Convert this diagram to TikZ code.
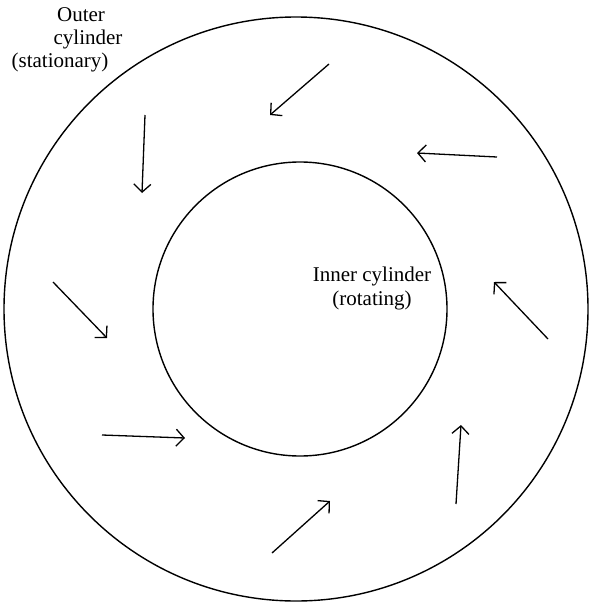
\documentclass[tikz,border=0pt]{standalone}
\usepackage{fontspec}
\setmainfont{Liberation Serif}
\usetikzlibrary{arrows.meta}
\begin{document}
\begin{tikzpicture}[x=1pt,y=-1pt,
  wall/.style={line width=1.4pt},
  flow/.style={line width=1.3pt,-{Straight Barb[length=8pt,width=17pt,line width=1.3pt]}},
  lbl/.style={font=\fontsize{21}{24}\selectfont,inner sep=0pt}]
\useasboundingbox (0,0) rectangle (591,605);
\node[draw,wall,circle,minimum size=584pt,inner sep=0pt] (outer) at (296,309) {};
\node[draw,wall,circle,minimum size=294pt,inner sep=0pt] (inner) at (300,309) {};
% labels
\node[lbl] (o1) at (81,15) {Outer};
\node[lbl] (o2) at (88,39) {cylinder};
\node[lbl] (o3) at (60,62) {(stationary)};
\node[lbl] (i1) at (372,276) {Inner cylinder};
\node[lbl] (i2) at (372,300) {(rotating)};
% flow arrows
\coordinate (a1s) at (145,115); \coordinate (a1e) at (142,193);
\coordinate (a2s) at (329,64);  \coordinate (a2e) at (270,115);
\coordinate (a3s) at (497,157); \coordinate (a3e) at (417,153);
\coordinate (a4s) at (53,282);  \coordinate (a4e) at (107,338);
\coordinate (a5s) at (548,339); \coordinate (a5e) at (494,282);
\coordinate (a6s) at (102,435); \coordinate (a6e) at (185,438);
\coordinate (a7s) at (272,553); \coordinate (a7e) at (330,501);
\coordinate (a8s) at (456,504); \coordinate (a8e) at (461,425);
\foreach \i in {1,...,8} \draw[flow] (a\i s) -- (a\i e);
\end{tikzpicture}
\end{document}
